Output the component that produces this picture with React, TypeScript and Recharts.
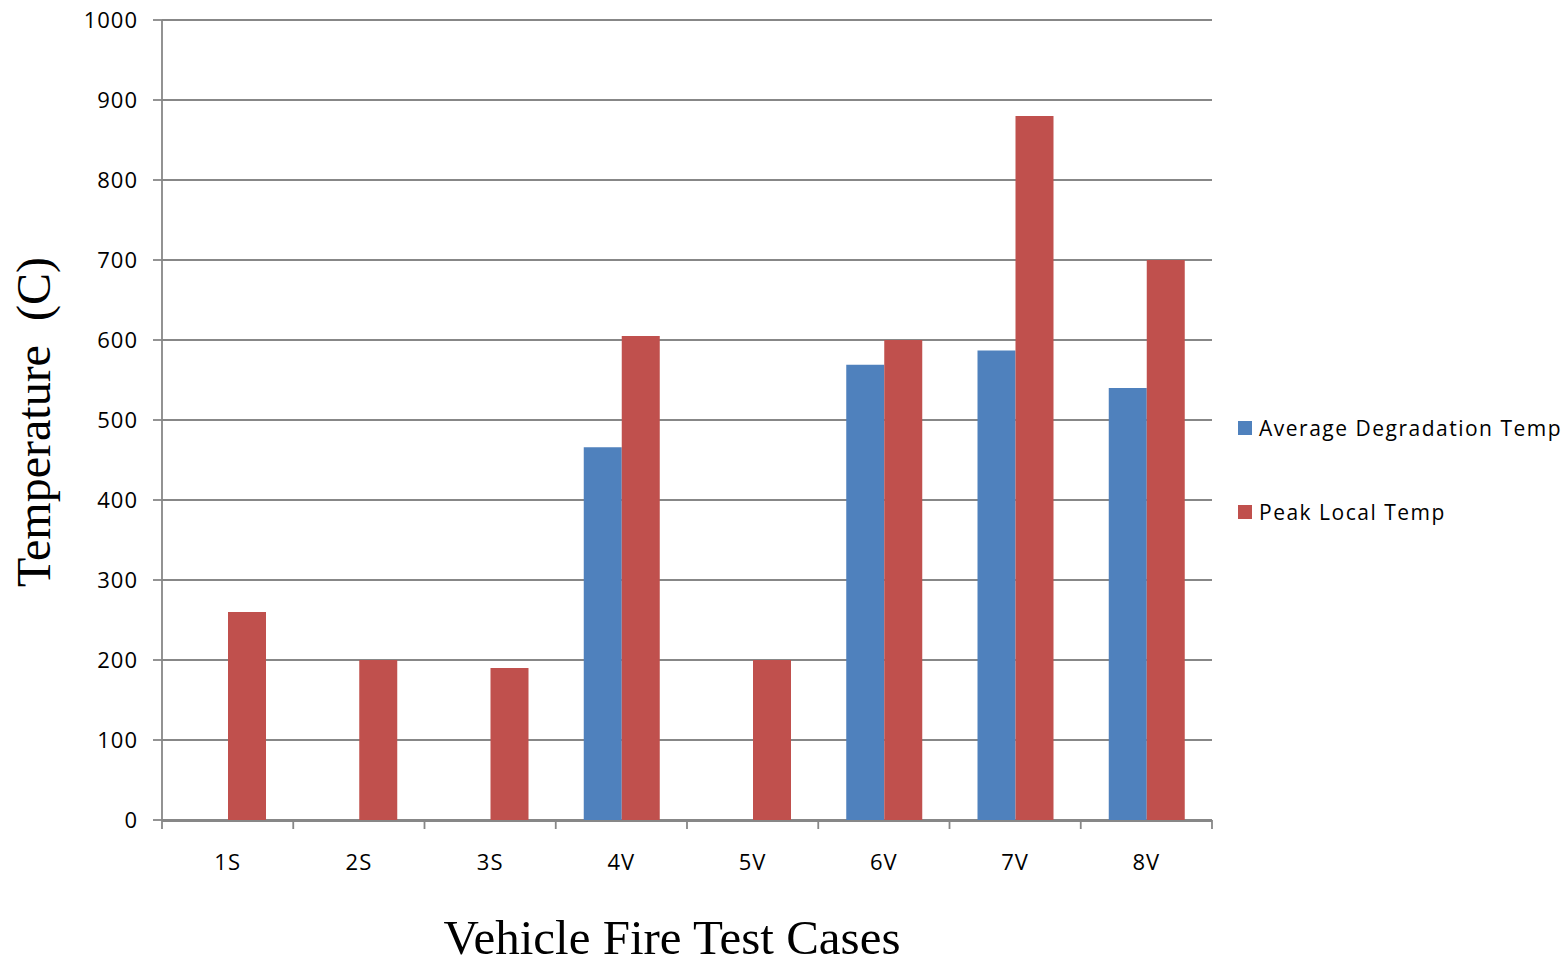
import React from 'react';
import { BarChart, Bar, XAxis, YAxis, CartesianGrid } from 'recharts';

const categories = ['1S', '2S', '3S', '4V', '5V', '6V', '7V', '8V'];
const avgDegradation: (number | null)[] = [null, null, null, 466, null, 569, 587, 540];
const peakLocal: number[] = [260, 200, 190, 605, 200, 600, 880, 700];
const yTicks = [0, 100, 200, 300, 400, 500, 600, 700, 800, 900, 1000];
const boundaryTicks = [0, 1, 2, 3, 4, 5, 6, 7, 8];
const seriesNames = ['Average Degradation Temp', 'Peak Local Temp'];
const seriesColors = ['#4F81BD', '#C0504D'];

const data = categories.map((c, i) => ({
  name: c,
  idx: i + 0.5,
  avg: avgDegradation[i],
  peak: peakLocal[i],
}));

const GRID = '#878787';
const tickFont = { fontFamily: 'Open Sans', fontSize: 22, fill: '#000', letterSpacing: 1 };

const YTitle = (props: any) => {
  const vb = props.viewBox || {};
  const cy = vb.y + vb.height / 2 + 2;
  const cx = 50;
  return (
    <text
      x={cx}
      y={cy}
      transform={`rotate(-90 ${cx} ${cy})`}
      textAnchor="middle"
      fontFamily="Liberation Serif"
      fontSize={48}
      fill="#000"
      style={{ whiteSpace: 'pre' }}
    >
      {'Temperature  (C)'}
    </text>
  );
};

const XTitle = (props: any) => {
  const vb = props.viewBox || {};
  const cx = vb.x + vb.width / 2 - 15;
  const y = vb.y + 133;
  return (
    <text x={cx} y={y} textAnchor="middle" fontFamily="Liberation Serif" fontSize={49} fill="#000">
      Vehicle Fire Test Cases
    </text>
  );
};

const EmptyTick = () => <g />;

export default function App() {
  return (
    <div style={{ position: 'absolute', left: 0, top: 0, width: 1568, height: 958, background: '#fff' }}>
      <BarChart
        width={1568}
        height={958}
        data={data}
        margin={{ top: 20, right: 356, bottom: 136, left: 0 }}
        barCategoryGap={28}
        barGap={0}
      >
        <CartesianGrid horizontal vertical={false} stroke={GRID} strokeWidth={1.8} />
        <XAxis
          xAxisId="cat"
          dataKey="name"
          height={1}
          tickLine={false}
          axisLine={{ stroke: GRID, strokeWidth: 1.8 }}
          tickSize={8}
          tickMargin={25}
          tick={tickFont}
          label={<XTitle />}
        />
        <XAxis
          xAxisId="bounds"
          dataKey="idx"
          type="number"
          domain={[0, 8]}
          ticks={boundaryTicks}
          interval={0}
          height={1}
          tick={<EmptyTick />}
          axisLine={false}
          tickLine={{ stroke: GRID, strokeWidth: 1.8 }}
          tickSize={9}
          allowDataOverflow
        />
        <YAxis
          width={162}
          domain={[0, 1000]}
          ticks={yTicks}
          interval={0}
          tick={tickFont}
          tickSize={9}
          tickMargin={15}
          tickLine={{ stroke: GRID, strokeWidth: 1.8 }}
          axisLine={{ stroke: GRID, strokeWidth: 1.8 }}
          label={<YTitle />}
        />
        <Bar xAxisId="cat" dataKey="avg" name={seriesNames[0]} fill={seriesColors[0]} isAnimationActive={false} />
        <Bar xAxisId="cat" dataKey="peak" name={seriesNames[1]} fill={seriesColors[1]} isAnimationActive={false} />
      </BarChart>
      {seriesNames.map((n, i) => (
        <div
          key={n}
          style={{
            position: 'absolute',
            left: 1238,
            top: 414 + i * 84,
            display: 'flex',
            alignItems: 'center',
            fontFamily: 'Open Sans',
            fontSize: 21,
            letterSpacing: 1.5,
            color: '#000',
            whiteSpace: 'nowrap',
          }}
        >
          <span style={{ display: 'inline-block', width: 14, height: 14, background: seriesColors[i], marginRight: 7 }} />
          {n}
        </div>
      ))}
    </div>
  );
}
